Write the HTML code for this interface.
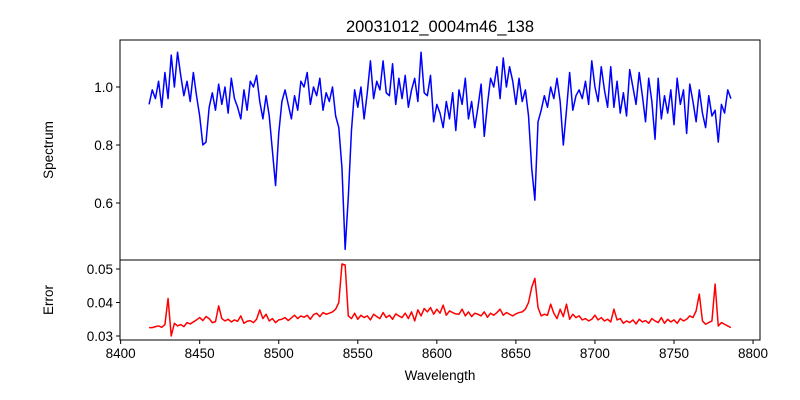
<!DOCTYPE html>
<html><head><meta charset="utf-8"><style>
body{margin:0;background:#fff;}
svg{display:block;font-family:"Liberation Sans","DejaVu Sans",sans-serif;}
</style></head><body>
<svg id="chart" width="800" height="400" viewBox="0 0 800 400" xmlns="http://www.w3.org/2000/svg">
<rect width="800" height="400" fill="#fff"/>
<text x="440" y="32" text-anchor="middle" font-size="16.5">20031012_0004m46_138</text>
<text transform="translate(53,150) rotate(-90)" text-anchor="middle" font-size="13.5">Spectrum</text>
<text transform="translate(53,300) rotate(-90)" text-anchor="middle" font-size="13.5">Error</text>
<text x="440" y="380" text-anchor="middle" font-size="13.5">Wavelength</text>
<g id="g"></g>
</svg>
<script>
const wlStart = 8418, wlStep = 2;
const spectrum = [
0.94,0.99,0.96,1.02,0.93,1.05,0.96,1.11,1.00,1.12,1.04,0.97,1.02,0.95,1.05,0.97,
0.90,0.80,0.81,0.93,0.98,0.92,1.01,0.94,1.00,0.91,1.03,0.96,0.93,0.89,0.99,0.92,
1.02,1.00,1.04,0.95,0.89,0.97,0.90,0.78,0.66,0.84,0.95,0.99,0.94,0.89,0.97,0.92,
1.02,1.00,1.05,0.94,1.00,0.97,1.03,0.92,0.98,0.95,1.00,0.90,0.86,0.72,0.44,0.62,
0.85,0.99,0.93,1.00,0.89,0.98,1.09,0.96,1.02,0.99,1.09,0.98,0.97,1.08,0.94,1.03,
0.96,1.04,0.93,0.99,1.03,0.95,1.12,0.98,0.97,1.04,0.88,0.94,0.91,0.86,0.95,0.89,
0.98,0.85,0.99,0.94,1.03,0.89,0.95,0.86,0.93,1.01,0.83,0.94,1.03,1.00,1.07,0.96,
1.10,1.00,1.07,1.02,0.94,1.03,0.95,0.99,0.90,0.72,0.61,0.88,0.92,0.97,0.93,1.00,
0.96,1.03,0.95,0.80,0.92,1.05,0.92,0.97,0.99,0.96,1.02,0.94,1.09,1.00,0.95,1.07,
0.99,0.93,1.07,0.93,1.02,0.91,0.98,0.90,1.06,1.00,0.94,1.05,0.97,0.88,1.03,0.95,
0.82,1.03,0.89,0.97,0.91,0.99,0.87,1.03,0.94,0.99,0.84,1.01,0.95,0.88,0.99,0.91,
0.86,0.97,0.90,0.92,0.81,0.94,0.91,0.99,0.96];
const errorVals = [
0.0325,0.0325,0.0328,0.0330,0.0326,0.0334,0.0412,0.0300,0.0338,0.0330,0.0334,0.0328,0.0340,0.0336,0.0342,0.0348,
0.0355,0.0346,0.0358,0.0352,0.0340,0.0343,0.0390,0.0352,0.0345,0.0350,0.0342,0.0348,0.0344,0.0360,0.0338,0.0344,
0.0346,0.0340,0.0350,0.0378,0.0352,0.0365,0.0345,0.0352,0.0340,0.0348,0.0350,0.0355,0.0346,0.0354,0.0362,0.0352,
0.0360,0.0356,0.0362,0.0350,0.0364,0.0368,0.0358,0.0370,0.0365,0.0368,0.0372,0.0380,0.0400,0.0515,0.0512,0.0360,
0.0352,0.0368,0.0350,0.0362,0.0355,0.0360,0.0348,0.0365,0.0358,0.0352,0.0370,0.0355,0.0362,0.0350,0.0366,0.0360,
0.0355,0.0368,0.0352,0.0372,0.0345,0.0378,0.0360,0.0382,0.0372,0.0385,0.0365,0.0380,0.0368,0.0392,0.0362,0.0375,
0.0370,0.0366,0.0365,0.0380,0.0360,0.0372,0.0358,0.0368,0.0365,0.0360,0.0372,0.0356,0.0368,0.0362,0.0370,0.0380,
0.0362,0.0370,0.0365,0.0360,0.0366,0.0370,0.0372,0.0380,0.0400,0.0445,0.0472,0.0385,0.0360,0.0365,0.0362,0.0395,
0.0368,0.0352,0.0380,0.0358,0.0395,0.0350,0.0365,0.0355,0.0360,0.0348,0.0352,0.0345,0.0350,0.0362,0.0348,0.0355,
0.0345,0.0350,0.0342,0.0380,0.0348,0.0352,0.0338,0.0345,0.0340,0.0348,0.0336,0.0350,0.0342,0.0346,0.0338,0.0352,
0.0345,0.0340,0.0355,0.0338,0.0350,0.0342,0.0348,0.0338,0.0352,0.0345,0.0350,0.0360,0.0355,0.0375,0.0425,0.0345,
0.0335,0.0340,0.0345,0.0455,0.0330,0.0340,0.0335,0.0330,0.0325];
const xTicks = [8400,8450,8500,8550,8600,8650,8700,8750,8800];
const specTicks = [0.6,0.8,1.0];
const errTicks = [0.03,0.04,0.05];

const NS = "http://www.w3.org/2000/svg";
const g = document.getElementById('g');
const L = 120, R = 760, T1 = 40, B1 = 260, T2 = 260, B2 = 340;
const xMin = 8399.6, xMax = 8804.4;
const xs = v => L + (v - xMin) * (R - L) / (xMax - xMin);
const ys = v => 87 - (v - 1.0) * 290;
const ye = v => 269 - (v - 0.05) * 3350;
function mk(tag, attrs){const e=document.createElementNS(NS,tag);for(const k in attrs)e.setAttribute(k,attrs[k]);g.appendChild(e);return e;}

function series(vals, yf, color, name){
  let d='';
  vals.forEach((v,i)=>{d+=(i?'L':'M')+xs(wlStart+i*wlStep).toFixed(2)+','+yf(v).toFixed(2);});
  const p=mk('path',{d:d,fill:'none',stroke:color,'stroke-width':1.5,'stroke-linejoin':'round'});
  
  
}
series(spectrum, ys, '#0000ff', 'spectrum-line');
series(errorVals, ye, '#ff0000', 'error-line');

const f1=mk('rect',{x:L,y:T1,width:R-L,height:B1-T1,fill:'none',stroke:'#000','stroke-width':1});


const f2=mk('rect',{x:L,y:T2,width:R-L,height:B2-T2,fill:'none',stroke:'#000','stroke-width':1});



xTicks.forEach(t=>{
  const x=xs(t);
  mk('line',{x1:x,x2:x,y1:B2,y2:B2+4,stroke:'#000'});
  const tx=mk('text',{x:x,y:B2+18,'text-anchor':'middle','font-size':13.5});
  tx.textContent=t;
  
  
});
specTicks.forEach(t=>{
  const y=ys(t);
  mk('line',{x1:L-4,x2:L,y1:y,y2:y,stroke:'#000'});
  const tx=mk('text',{x:L-7,y:y+5,'text-anchor':'end','font-size':13.5});
  tx.textContent=t.toFixed(1);
  
  
});
errTicks.forEach(t=>{
  const y=ye(t);
  mk('line',{x1:L-4,x2:L,y1:y,y2:y,stroke:'#000'});
  const tx=mk('text',{x:L-7,y:y+5,'text-anchor':'end','font-size':13.5});
  tx.textContent=t.toFixed(2);
  
  
});
</script>
</body></html>
